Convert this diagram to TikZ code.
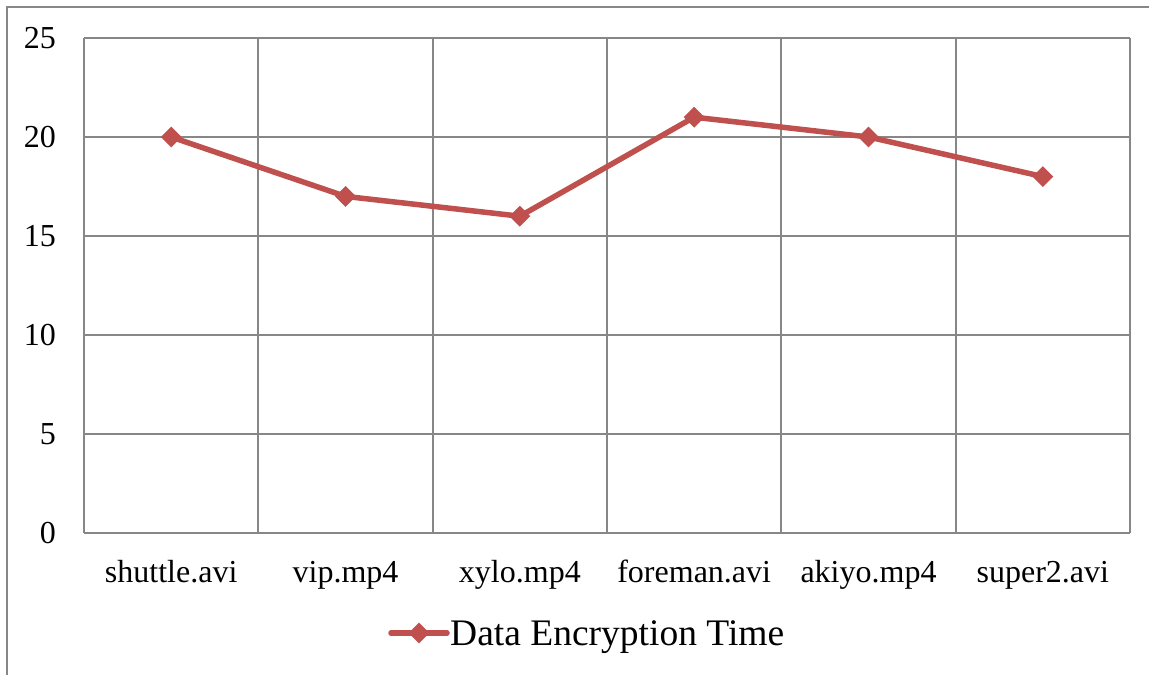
\documentclass[tikz,border=0pt]{standalone}
\usepackage{fontspec}
\setmainfont{Liberation Serif}
\usetikzlibrary{shapes.geometric}
\definecolor{gridgray}{HTML}{878787}
\definecolor{seriesred}{HTML}{C0504D}
\tikzset{
  gridline/.style={draw=gridgray, line width=2bp},
  series/.style={draw=seriesred, line width=5.5bp, line join=round},
  marker/.style={diamond, fill=seriesred, draw=none, inner sep=0pt, minimum width=21bp, minimum height=21bp},
  ticklabel/.style={inner sep=0pt, anchor=base east, font=\fontsize{32bp}{36bp}\selectfont},
  catlabel/.style={inner sep=0pt, anchor=base, font=\fontsize{32bp}{36bp}\selectfont},
  legendlabel/.style={inner sep=0pt, anchor=base west, font=\fontsize{37.5bp}{42bp}\selectfont}
}
\begin{document}
\begin{tikzpicture}[x=1bp, y=-1bp]
  \useasboundingbox (0,0) rectangle (1149,675);
  \fill[white] (0,0) rectangle (1149,675);
  % chart frame (open to the right and bottom)
  \draw[gridline] (7,675) -- (7,7) -- (1149,7);
  % horizontal grid lines, one per 5 units
  \foreach \k in {0,...,5} {
    \draw[gridline] (84,{533-99*\k}) -- (1130,{533-99*\k});
  }
  % vertical category separators
  \foreach \i in {0,...,6} {
    \draw[gridline] ({84+174.33*\i},38) -- ({84+174.33*\i},533);
  }
  % value axis labels
  \foreach \v [count=\k from 0] in {0,5,10,15,20,25} {
    \node[ticklabel] (tick\k) at (56,{533-99*\k+10.5}) {\v};
  }
  % category labels
  \foreach \c [count=\i from 0] in {shuttle.avi,vip.mp4,xylo.mp4,foreman.avi,akiyo.mp4,super2.avi} {
    \node[catlabel] (cat\i) at ({171.2+174.33*\i},582) {\c};
  }
  % data points
  \foreach \val [count=\i from 1] in {20,17,16,21,20,18} {
    \coordinate (p\i) at ({171.2+174.33*(\i-1)},{533-19.8*\val});
  }
  \draw[series] (p1) -- (p2) -- (p3) -- (p4) -- (p5) -- (p6);
  \foreach \i in {1,...,6} {
    \node[marker] (m\i) at (p\i) {};
  }
  % legend
  \coordinate (legA) at (391,633);
  \coordinate (legB) at (447,633);
  \draw[series, line cap=round] (legA) -- (legB);
  \node[marker] (legm) at (419,633) {};
  \node[legendlabel] (legtext) at (450,645) {Data Encryption Time};
\end{tikzpicture}
\end{document}
